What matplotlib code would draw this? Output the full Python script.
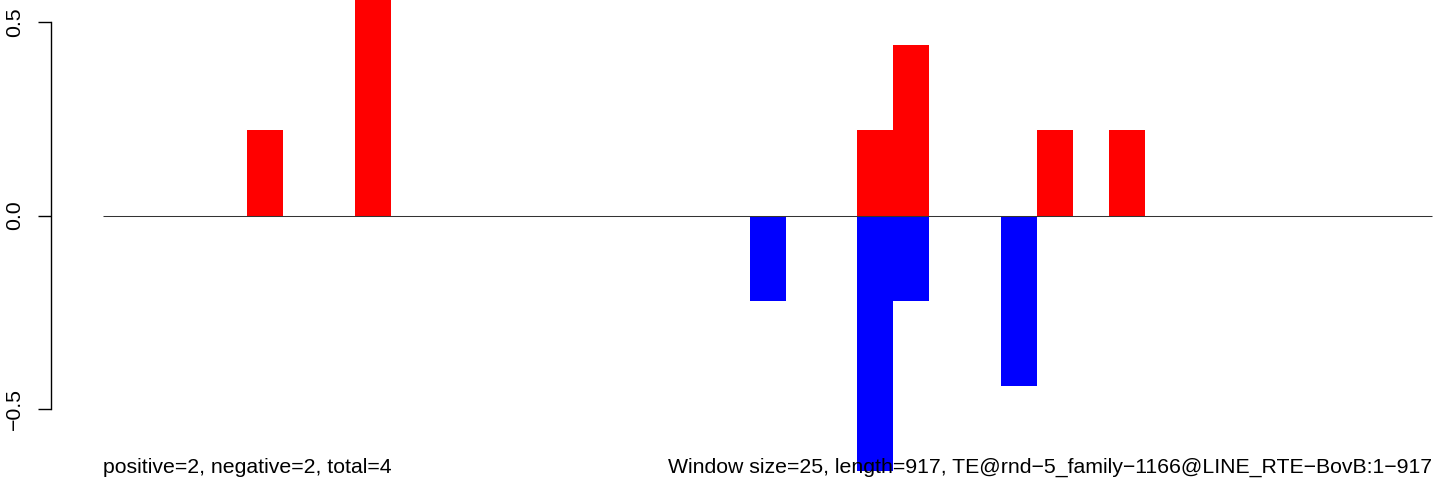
import matplotlib
matplotlib.use("Agg")
import matplotlib.pyplot as plt
import numpy as np

window = 25
length = 917
n_bins = 37
bin_index = list(range(n_bins))

pos_values = [0, 0, 0, 0, 0.22, 0, 0, 0.66, 0, 0,
              0, 0, 0, 0, 0, 0, 0, 0, 0, 0,
              0, 0.22, 0.44, 0, 0, 0, 0.22, 0, 0.22, 0,
              0, 0, 0, 0, 0, 0, 0]
neg_values = [0, 0, 0, 0, 0, 0, 0, 0, 0, 0,
              0, 0, 0, 0, 0, 0, 0, 0, -0.22, 0,
              0, -0.66, -0.22, 0, 0, -0.44, 0, 0, 0, 0,
              0, 0, 0, 0, 0, 0, 0]

y_ticks = [-0.5, 0.0, 0.5]
y_tick_labels = ["\u22120.5", "0.0", "0.5"]
left_text = "positive=2, negative=2, total=4"
right_text = ("Window size=25, length=917, "
              "TE@rnd\u22125_family\u22121166@LINE_RTE\u2212BovB:1\u2212917")

plt.rcParams['font.family'] = ['Liberation Sans', 'DejaVu Sans']
FS = 15.3

W, H = 1444, 483
fig = plt.figure(figsize=(W / 100, H / 100), dpi=100)

ax_left_px, ax_right_px = 51, 1432
ax_top_px, ax_bot_px = 22, 409
ax = fig.add_axes([ax_left_px / W, (H - ax_bot_px) / H,
                   (ax_right_px - ax_left_px) / W, (ax_bot_px - ax_top_px) / H])

x0_px = 103.3
px_per_unit = (ax_right_px - x0_px) / (n_bins * window)
ax.set_xlim((ax_left_px - x0_px) / px_per_unit, n_bins * window)
ax.set_ylim(-0.5, 0.5)

lefts = np.array(bin_index) * window
ax.bar(lefts, pos_values, width=window, align='edge', color='#ff0000',
       linewidth=0, clip_on=False)
ax.bar(lefts, neg_values, width=window, align='edge', color='#0000ff',
       linewidth=0, clip_on=False)

ax.plot([0, n_bins * window], [0, 0], color='#333333', lw=0.75,
        clip_on=False, zorder=3, solid_capstyle='butt')

for s in ['top', 'right', 'bottom']:
    ax.spines[s].set_visible(False)
ax.spines['left'].set_linewidth(1.0)
ax.set_xticks([])
ax.set_yticks(y_ticks)
ax.set_yticklabels(y_tick_labels, rotation=90, va='center', fontsize=FS)
ax.tick_params(axis='y', length=9.4, width=1.0, pad=10)

unit_px = (ax_bot_px - ax_top_px) / 1.0
zero_px = (ax_top_px + ax_bot_px) / 2
y_text = (zero_px - 472.7) / unit_px
ax.text(0, y_text, left_text, ha='left', va='baseline', fontsize=FS,
        clip_on=False)
ax.text(n_bins * window, y_text, right_text, ha='right', va='baseline',
        fontsize=FS, clip_on=False)

fig.savefig("out.png", dpi=100)
